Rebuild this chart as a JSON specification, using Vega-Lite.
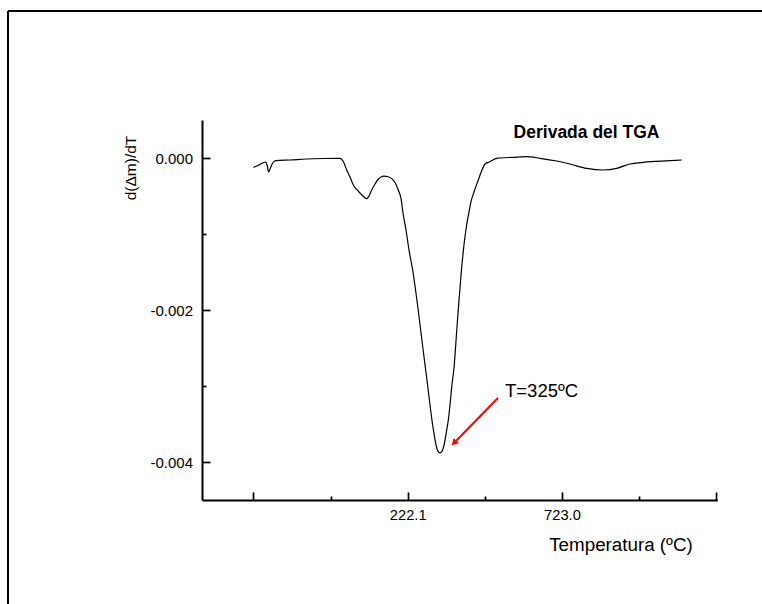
{
  "$schema": "https://vega.github.io/schema/vega-lite/v6.json",
  "width": 754,
  "height": 593,
  "autosize": {"type": "none"},
  "padding": {"left": 8, "top": 11, "right": 0, "bottom": 0},
  "background": "white",
  "config": {
    "font": "Liberation Sans",
    "view": {"stroke": "#000000", "strokeWidth": 2, "strokeDash": [754, 1347, 593, 0]},
    "axis": {"grid": false, "domainColor": "#000000", "tickColor": "#000000", "labelColor": "#000000", "titleColor": "#000000", "labelFont": "Liberation Sans", "titleFont": "Liberation Sans", "titleFontWeight": "normal"}
  },
  "datasets": {
    "curve": [
      {"T": -279.1, "v": -0.000122},
      {"T": -263.9, "v": -0.0000987},
      {"T": -250.9, "v": -0.0000697},
      {"T": -237.9, "v": -0.0000526},
      {"T": -233.7, "v": -0.000105},
      {"T": -229.8, "v": -0.000184},
      {"T": -224.9, "v": -0.000145},
      {"T": -216.2, "v": -0.0000658},
      {"T": -205.4, "v": -0.0000355},
      {"T": -160.0, "v": -0.0000263},
      {"T": -105.8, "v": -0.0000132},
      {"T": -51.9, "v": -0.0000066},
      {"T": 2.3, "v": -0.000004},
      {"T": 13.7, "v": -0.0000526},
      {"T": 24.1, "v": -0.000158},
      {"T": 34.8, "v": -0.00025},
      {"T": 45.5, "v": -0.000355},
      {"T": 56.5, "v": -0.000414},
      {"T": 67.2, "v": -0.000461},
      {"T": 78.6, "v": -0.000507},
      {"T": 89.0, "v": -0.000536},
      {"T": 96.5, "v": -0.0005},
      {"T": 105.2, "v": -0.000421},
      {"T": 115.9, "v": -0.000342},
      {"T": 125.7, "v": -0.000283},
      {"T": 135.4, "v": -0.00025},
      {"T": 145.2, "v": -0.000239},
      {"T": 158.1, "v": -0.000247},
      {"T": 171.1, "v": -0.000274},
      {"T": 180.9, "v": -0.000322},
      {"T": 191.6, "v": -0.000421},
      {"T": 200.0, "v": -0.000526},
      {"T": 207.8, "v": -0.00075},
      {"T": 215.6, "v": -0.000921},
      {"T": 226.3, "v": -0.00121},
      {"T": 239.3, "v": -0.0015},
      {"T": 255.2, "v": -0.00197},
      {"T": 270.8, "v": -0.00248},
      {"T": 278.3, "v": -0.00272},
      {"T": 286.7, "v": -0.00299},
      {"T": 294.5, "v": -0.00325},
      {"T": 302.6, "v": -0.0035},
      {"T": 309.1, "v": -0.00367},
      {"T": 314.9, "v": -0.00379},
      {"T": 320.5, "v": -0.00386},
      {"T": 327.0, "v": -0.00388},
      {"T": 333.4, "v": -0.00386},
      {"T": 340.0, "v": -0.00378},
      {"T": 348.7, "v": -0.00358},
      {"T": 353.9, "v": -0.00345},
      {"T": 359.4, "v": -0.00325},
      {"T": 365.6, "v": -0.00299},
      {"T": 372.4, "v": -0.00276},
      {"T": 381.5, "v": -0.00226},
      {"T": 388.6, "v": -0.00187},
      {"T": 397.1, "v": -0.00145},
      {"T": 404.9, "v": -0.00114},
      {"T": 413.0, "v": -0.000895},
      {"T": 421.1, "v": -0.000711},
      {"T": 428.6, "v": -0.000559},
      {"T": 437.3, "v": -0.000447},
      {"T": 451.3, "v": -0.000289},
      {"T": 463.3, "v": -0.000158},
      {"T": 473.0, "v": -0.000079},
      {"T": 489.3, "v": -0.0000487},
      {"T": 511.0, "v": -0.000004},
      {"T": 564.9, "v": 0.0000092},
      {"T": 608.4, "v": 0.0000171},
      {"T": 651.6, "v": -0.000004},
      {"T": 705.8, "v": -0.0000395},
      {"T": 749.0, "v": -0.000079},
      {"T": 803.2, "v": -0.000136},
      {"T": 857.1, "v": -0.000158},
      {"T": 900.6, "v": -0.000136},
      {"T": 943.8, "v": -0.000079},
      {"T": 987.0, "v": -0.0000566},
      {"T": 1073.6, "v": -0.0000355},
      {"T": 1111.6, "v": -0.0000263}
    ],
    "peak": [{"T": 538.0, "v": -0.003149, "label": "T=325ºC"}],
    "heading": [{"T": 565.9, "v": 0.000264, "label": "Derivada del TGA"}],
    "arrow": [{"T": 515.2, "v": -0.003158, "T2": 372.4, "v2": -0.00375}],
    "head": [{"T": 372.4, "v": -0.00375}]
  },
  "resolve": {"axis": {"x": "independent", "y": "independent"}},
  "layer": [
    {
      "data": {"name": "curve"},
      "mark": {"type": "line", "color": "#000000", "strokeWidth": 1.2, "interpolate": "monotone"},
      "encoding": {
        "x": {"field": "T", "type": "quantitative",
          "scale": {"domain": [-445.7, 1227.2], "range": [194, 709.3], "nice": false, "zero": false},
          "axis": {"orient": "bottom", "offset": -104, "values": [-278.8, 222.1, 723.0, 1223.9],
            "labelExpr": "(datum.value > 0 && datum.value < 1000) ? format(datum.value, '.1f') : ''",
            "tickSize": -8, "tickWidth": 1.7, "domainWidth": 2, "labelPadding": 15, "labelFontSize": 14.7,
            "title": "Temperatura (ºC)", "titleFontSize": 18.8, "titleX": 612.5, "titleY": 50,
            "titleAlign": "center", "titleBaseline": "alphabetic", "labelFlush": false}},
        "y": {"field": "v", "type": "quantitative",
          "scale": {"domain": [-0.0045, 0.0005], "range": [489, 109], "nice": false, "zero": false},
          "axis": {"orient": "left", "offset": -194, "values": [0, -0.002, -0.004],
            "labelExpr": "datum.value == 0 ? '0.000' : '-' + format(-datum.value, '.3f')",
            "tickSize": -8, "tickWidth": 1.7, "domainWidth": 2, "labelPadding": 17.5, "labelFontSize": 15,
            "title": "d(Δm)/dT", "titleFontSize": 15.5, "titleX": -72, "titleY": 156.5, "titleAngle": -90,
            "titleAlign": "center", "titleBaseline": "middle", "labelFlush": false}}
      }
    },
    {
      "data": {"name": "peak"},
      "mark": {"type": "text", "fontSize": 18.5, "align": "left", "baseline": "alphabetic", "color": "#000000"},
      "encoding": {
        "x": {"field": "T", "type": "quantitative",
          "scale": {"domain": [-445.7, 1227.2], "range": [194, 709.3], "nice": false, "zero": false},
          "axis": {"orient": "bottom", "offset": -104, "values": [-28.35, 472.55, 973.45],
            "tickSize": -4, "tickWidth": 1.7, "labels": false, "domain": false, "title": null}},
        "y": {"field": "v", "type": "quantitative",
          "scale": {"domain": [-0.0045, 0.0005], "range": [489, 109], "nice": false, "zero": false},
          "axis": {"orient": "left", "offset": -194, "values": [-0.001, -0.003],
            "tickSize": -4, "tickWidth": 1.7, "labels": false, "domain": false, "title": null}},
        "text": {"field": "label"}
      }
    },
    {
      "data": {"name": "heading"},
      "mark": {"type": "text", "fontSize": 17.5, "fontWeight": "bold", "align": "left", "baseline": "alphabetic", "color": "#000000"},
      "encoding": {
        "x": {"field": "T", "type": "quantitative", "scale": {"domain": [-445.7, 1227.2], "range": [194, 709.3], "nice": false, "zero": false}, "axis": null},
        "y": {"field": "v", "type": "quantitative", "scale": {"domain": [-0.0045, 0.0005], "range": [489, 109], "nice": false, "zero": false}, "axis": null},
        "text": {"field": "label"}
      }
    },
    {
      "data": {"name": "arrow"},
      "mark": {"type": "rule", "color": "#ff0000", "strokeWidth": 2},
      "encoding": {
        "x": {"field": "T", "type": "quantitative", "scale": {"domain": [-445.7, 1227.2], "range": [194, 709.3], "nice": false, "zero": false}, "axis": null},
        "y": {"field": "v", "type": "quantitative", "scale": {"domain": [-0.0045, 0.0005], "range": [489, 109], "nice": false, "zero": false}, "axis": null},
        "x2": {"field": "T2"},
        "y2": {"field": "v2"}
      }
    },
    {
      "data": {"name": "head"},
      "mark": {"type": "point", "shape": "triangle-up", "filled": true, "color": "#ff0000", "size": 60, "angle": 225, "opacity": 1},
      "encoding": {
        "x": {"field": "T", "type": "quantitative", "scale": {"domain": [-445.7, 1227.2], "range": [194, 709.3], "nice": false, "zero": false}, "axis": null},
        "y": {"field": "v", "type": "quantitative", "scale": {"domain": [-0.0045, 0.0005], "range": [489, 109], "nice": false, "zero": false}, "axis": null}
      }
    }
  ]
}
